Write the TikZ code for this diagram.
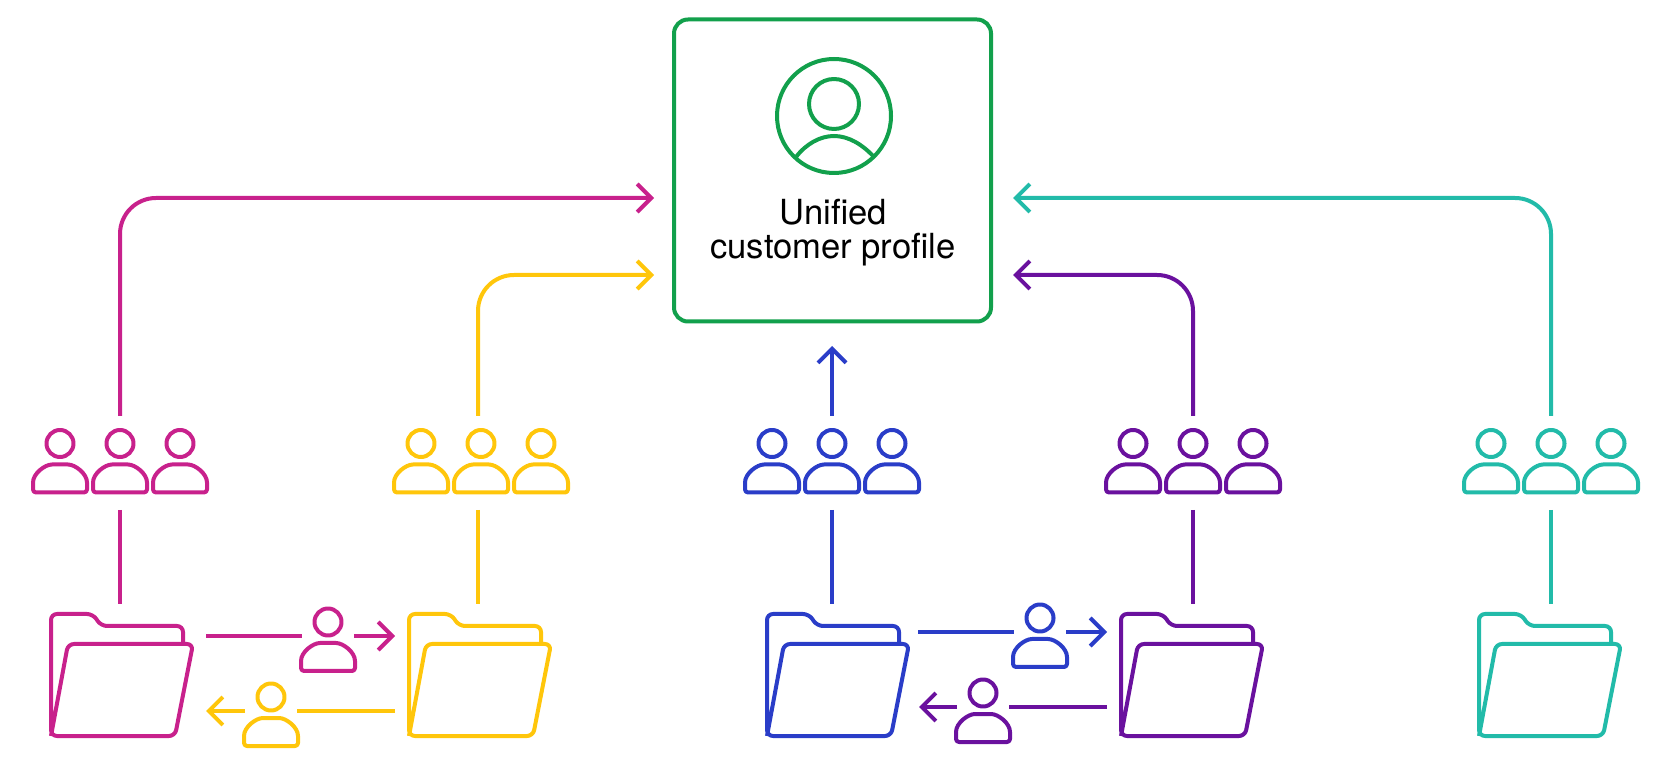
\documentclass[tikz,border=0pt]{standalone}
\usepackage{fontspec}
\setmainfont{TeX Gyre Heros}
\usetikzlibrary{arrows.meta,positioning}

\definecolor{cMagenta}{HTML}{C8218C}
\definecolor{cYellow}{HTML}{FFC60B}
\definecolor{cBlue}{HTML}{2A3DC8}
\definecolor{cPurple}{HTML}{6A119E}
\definecolor{cTeal}{HTML}{22BBA9}
\definecolor{cGreen}{HTML}{12A04C}

\tikzset{
  iconline/.style={line width=2pt,line join=round},
  link/.style={line width=2pt},
  linkarrow/.style={link,-{Straight Barb[length=7pt,width=14pt,line width=2pt]}},
  roundlink/.style={rounded corners=18pt},
  groupbox/.style={minimum width=90pt,minimum height=47pt,inner sep=0pt,outer sep=0pt},
  % one person, origin in the middle of the head
  pics/person/.style={code={
    \draw[iconline,#1] (0,0) circle [radius=13.5];
    \draw[iconline,#1,rounded corners=1.5pt] (-27,49) -- (-27,42) .. controls (-27,30) and (-15,21) .. (-5,21)
      -- (5,21) .. controls (15,21) and (27,30) .. (27,42) -- (27,49) -- cycle;
    \coordinate (-w) at (-26,14);
    \coordinate (-e) at (26,14);
  }},
  % three people side by side
  pics/people/.style={code={
    \pic at (-60,0) {person=#1};
    \pic at (0,0) {person=#1};
    \pic at (60,0) {person=#1};
  }},
  % open folder, origin at the top left corner
  pics/folder/.style={code={
    \draw[iconline,#1,rounded corners=3pt] (132,30) -- (132,12) -- (50,12) -- (42,0) -- (0,0) -- (0,122) -- (124,122)
      -- (142,30) -- (17,30) -- (0,122);
    \coordinate (-top) at (72,-10);
    \coordinate (-right) at (155,0);
    \coordinate (-left) at (-14,0);
  }}
}

\begin{document}
\begin{tikzpicture}[x=0.5pt,y=-0.5pt]
  \useasboundingbox (0,0) rectangle (1664,763);

  % centre box
  \node[draw=cGreen,line width=2pt,rounded corners=7pt,minimum width=158.5pt,minimum height=151pt,inner sep=0pt] (profile) at (832.5,170.5) {};
  \draw[iconline,cGreen] (834,116) circle [radius=57];
  \draw[iconline,cGreen] (834,104) circle [radius=25];
  \draw[iconline,cGreen] (796,157) .. controls (806,144) and (820,136) .. (834,136) .. controls (848,136) and (862,144) .. (874,157);
  \node[align=center,font=\fontsize{17.3}{17}\selectfont] (profiletext) at (833,233) {Unified\\customer profile};

  % arrow ends beside the box
  \coordinate (endMagenta) at (654,198);
  \coordinate (endYellow) at (654,275);
  \coordinate (endBlue) at (832,346);
  \coordinate (endPurple) at (1013,275);
  \coordinate (endTeal) at (1013,198);

  % groups of people
  \pic at (120,443.5) {people=cMagenta};
  \pic at (481,443.5) {people=cYellow};
  \pic at (832,443.5) {people=cBlue};
  \pic at (1193,443.5) {people=cPurple};
  \pic at (1551,443.5) {people=cTeal};
  \node[groupbox] (groupMagenta) at (120,463) {};
  \node[groupbox] (groupYellow) at (478,463) {};
  \node[groupbox] (groupBlue) at (832,463) {};
  \node[groupbox] (groupPurple) at (1193,463) {};
  \node[groupbox] (groupTeal) at (1551,463) {};

  % folders
  \pic (folderMagenta) at (51,614) {folder=cMagenta};
  \pic (folderYellow) at (409,614) {folder=cYellow};
  \pic (folderBlue) at (767,614) {folder=cBlue};
  \pic (folderPurple) at (1121,614) {folder=cPurple};
  \pic (folderTeal) at (1479,614) {folder=cTeal};

  % single people between the folders
  \pic (passMagenta) at (328,622) {person=cMagenta};
  \pic (passYellow) at (271,697) {person=cYellow};
  \pic (passBlue) at (1040,618) {person=cBlue};
  \pic (passPurple) at (983,693) {person=cPurple};

  % up to the box
  \draw[linkarrow,roundlink,cMagenta] (groupMagenta.north) |- (endMagenta);
  \draw[linkarrow,roundlink,cYellow] (groupYellow.north) |- (endYellow);
  \draw[linkarrow,cBlue] (groupBlue.north) -- (endBlue);
  \draw[linkarrow,roundlink,cPurple] (groupPurple.north) |- (endPurple);
  \draw[linkarrow,roundlink,cTeal] (groupTeal.north) |- (endTeal);

  % folder up to its group
  \draw[link,cMagenta] (groupMagenta.south) -- (groupMagenta.south |- folderMagenta-top);
  \draw[link,cYellow] (groupYellow.south) -- (groupYellow.south |- folderYellow-top);
  \draw[link,cBlue] (groupBlue.south) -- (groupBlue.south |- folderBlue-top);
  \draw[link,cPurple] (groupPurple.south) -- (groupPurple.south |- folderPurple-top);
  \draw[link,cTeal] (groupTeal.south) -- (groupTeal.south |- folderTeal-top);

  % hand over between folders
  \draw[link,cMagenta] (folderMagenta-right |- passMagenta-w) -- (passMagenta-w);
  \draw[linkarrow,cMagenta] (passMagenta-e) -- (folderYellow-left |- passMagenta-e);
  \draw[link,cYellow] (folderYellow-left |- passYellow-e) -- (passYellow-e);
  \draw[linkarrow,cYellow] (passYellow-w) -- (folderMagenta-right |- passYellow-w);
  \draw[link,cBlue] ([xshift=-2pt]folderBlue-right |- passBlue-w) -- (passBlue-w);
  \draw[linkarrow,cBlue] (passBlue-e) -- (folderPurple-left |- passBlue-e);
  \draw[link,cPurple] (folderPurple-left |- passPurple-e) -- (passPurple-e);
  \draw[linkarrow,cPurple] (passPurple-w) -- ([xshift=-1.5pt]folderBlue-right |- passPurple-w);
\end{tikzpicture}
\end{document}
